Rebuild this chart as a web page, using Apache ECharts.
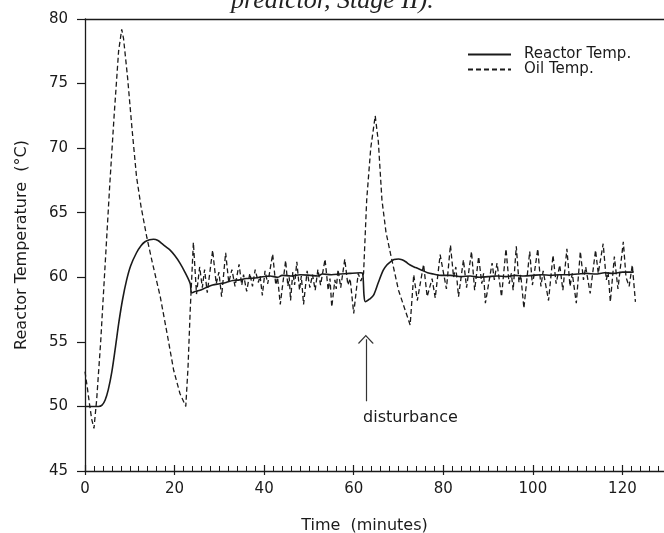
<!DOCTYPE html>
<html>
<head>
<meta charset="utf-8">
<script src="https://cdn.jsdelivr.net/npm/echarts@6/dist/echarts.min.js"></script>
<style>
html,body{margin:0;padding:0;background:#fff;overflow:hidden;width:664px;height:533px;}
#chart{width:712px;height:533px;}
</style>
</head>
<body>
<div id="chart"></div>
<script>
// ---- data ----
const reactorTime = [0,1,2,3,3.8,4.5,5.2,6.0,6.8,7.6,8.4,9.3,10.2,11.5,12.5,13.4,14.4,15.3,16.3,17.2,18.1,19.0,20.0,21.2,22.3,23.5,23.8,24.6,25.7,27.0,28.5,30.0,31.5,33.0,34.5,36.0,38.0,39.0,41.3,43.0,44.0,46.0,48.0,50.3,52.0,53.0,55.0,57.0,59.0,61.5,62.0,62.3,62.6,63.5,64.4,65.5,66.6,67.4,68.2,69.0,70.0,70.8,71.6,72.6,73.8,75.2,76.5,77.8,79.5,81.6,84,86,88,90,92,94,96,98,100,102,104,106,108,110,112,114,116,118,120,122.5];
const reactorTemp = [50.0,50.0,50.0,50.0,50.1,50.5,51.3,52.7,54.6,56.6,58.3,59.8,60.9,61.9,62.45,62.75,62.9,62.95,62.85,62.6,62.35,62.1,61.7,61.1,60.4,59.5,58.8,58.9,59.0,59.2,59.4,59.5,59.6,59.75,59.8,59.9,59.95,60.0,60.1,60.0,60.15,60.1,60.2,60.15,60.1,60.25,60.2,60.25,60.3,60.35,60.3,58.6,58.1,58.3,58.6,59.6,60.55,60.95,61.2,61.38,61.42,61.35,61.2,60.95,60.75,60.55,60.35,60.25,60.15,60.15,60.05,60.1,60.0,60.05,60.1,60.05,60.15,60.1,60.15,60.2,60.15,60.2,60.2,60.25,60.3,60.25,60.35,60.3,60.4,60.4];

const oilTime = [0,0.5,1,1.5,2,2.6,3.5,4.5,5.5,6.5,7.5,8.2,8.6,9.5,10.5,11.5,12.5,13.8,15,16.8,18.3,19.8,21.2,22.5,23.0,23.5,24.2,
 24.9,25.6,26.2,26.7,27.3,28.5,29.3,29.9,30.5,31.4,32.1,32.8,33.5,34.4,35.0,35.4,36.1,36.8,37.4,38.0,38.7,39.1,39.6,40.2,40.8,41.9,42.6,43.0,43.6,44.8,45.3,45.6,45.9,46.4,46.8,47.3,47.9,48.3,48.8,49.6,50.2,50.8,51.4,52.0,52.6,53.6,54.3,54.7,55.1,55.8,56.1,56.5,57.1,58.0,58.7,59.2,60.0,61.0,61.6,62.2,
 62.9,63.8,64.8,65.5,66.3,67.2,68.2,70.0,72.6,
 73.4,74.2,75.6,76.4,77.5,78.2,79.3,80.7,81.6,82.3,82.8,83.4,84.5,85.2,86.3,87.0,87.9,88.6,89.0,89.4,90.9,91.4,92.0,93.0,94.0,94.7,95.2,95.6,96.3,96.9,97.3,98.0,99.3,99.9,100.4,101.1,101.8,102.3,103.5,104.5,105.2,106.0,106.7,107.6,108.3,108.8,109.7,110.6,111.3,111.8,112.8,114.0,114.6,115.7,116.4,116.8,117.3,118.2,119.0,120.2,120.8,121.5,122.2,122.9];
const oilTemp = [52.7,51.5,50.2,49.0,48.3,50.5,55.0,61.0,67.0,72.5,77.5,79.2,78.5,75.5,71.5,67.8,65.5,63.1,61.2,58.5,55.7,52.8,51.0,50.0,53.0,57.5,62.7,
 58.7,60.8,59.2,60.6,58.8,62.1,59.5,60.4,58.5,61.9,59.6,60.6,59.3,61.0,59.4,60.2,58.9,60.3,59.3,60.6,59.6,60.1,58.6,60.5,59.5,61.8,59.4,60.0,57.9,61.3,59.3,60.0,58.2,60.4,59.4,61.2,59.0,60.1,57.9,60.5,59.2,60.2,59.0,60.6,59.4,61.4,59.0,59.9,57.7,59.8,59.1,60.6,59.2,61.4,59.4,59.9,57.2,60.3,59.7,60.3,
 66.0,70.0,72.5,70.5,66.0,63.5,61.85,59.0,56.3,
 60.2,58.2,61.0,58.5,59.9,58.4,61.75,59.1,62.5,60.0,60.8,58.5,61.35,59.2,62.0,59.0,61.6,59.5,60.3,58.0,61.1,59.8,61.1,58.5,62.2,59.5,60.3,59.0,62.4,59.6,60.2,57.6,62.0,59.4,60.5,62.2,59.3,60.5,58.2,61.7,59.5,60.95,59.0,62.2,59.3,60.3,58.0,62.0,59.8,60.8,58.75,62.1,60.3,62.6,59.8,60.4,58.1,61.6,59.1,62.75,60.0,59.3,60.95,58.1];

const xTicks = {min: 0, max: 140, interval: 20};
const yTicks = {min: 45, max: 80, interval: 5};
const seriesNames = ['Reactor Temp.', 'Oil Temp.'];
const arrowFrom = [62.7, 50.4];
const arrowTo = [62.7, 55.2];
const labelAt = [62.1, 49.1];

const zip = (a, b) => a.map((v, i) => [v, b[i]]);

const FONT = 'DejaVu Sans';
const INK = '#1a1a1a';

const chart = echarts.init(document.getElementById('chart'), null, {renderer: 'canvas'});
chart.setOption({
  animation: false,
  backgroundColor: '#fff',
  title: {
    text: 'predictor, Stage II).',
    left: 226, top: -17,
    textStyle: {fontFamily: 'Liberation Serif', fontStyle: 'italic', fontWeight: 'normal', fontSize: 26, color: '#222'}
  },
  grid: {left: 85, right: 0, top: 19, bottom: 62, outerBoundsMode: 'none', containLabel: false},
  legend: {
    orient: 'vertical', left: 467, top: 47, padding: 0,
    itemWidth: 43, itemHeight: 12, itemGap: 0,
    itemStyle: {color: 'transparent', borderWidth: 0, opacity: 0},
    textStyle: {fontFamily: FONT, fontSize: 15, lineHeight: 15, color: INK, padding: [0, 0, 0, 8]},
    data: seriesNames
  },
  xAxis: [{
    type: 'value', position: 'bottom',
    min: xTicks.min, max: xTicks.max, interval: xTicks.interval,
    axisLine: {show: true, lineStyle: {color: INK, width: 1.3}},
    axisTick: {show: true, inside: true, length: 6, lineStyle: {color: INK, width: 1.2}},
    minorTick: {show: true, splitNumber: 10, length: 5, lineStyle: {color: INK, width: 1}},
    splitLine: {show: false},
    axisLabel: {fontFamily: FONT, fontSize: 15, color: INK, margin: 11, showMaxLabel: false},
    name: 'Time  (minutes)', nameLocation: 'middle', nameGap: 47,
    nameTextStyle: {fontFamily: FONT, fontSize: 16, color: INK, padding: [0, 68, 0, 0]}
  }, {
    type: 'value', position: 'bottom', gridIndex: 0,
    min: xTicks.min, max: xTicks.max, interval: xTicks.interval,
    axisLine: {show: false},
    axisTick: {show: true, inside: false, length: 4, lineStyle: {color: INK, width: 1.2}},
    axisLabel: {show: false}, splitLine: {show: false}
  }, {
    type: 'value', position: 'top', gridIndex: 0,
    min: xTicks.min, max: xTicks.max,
    axisLine: {show: true, lineStyle: {color: INK, width: 1.3}},
    axisTick: {show: false}, axisLabel: {show: false}, splitLine: {show: false}
  }],
  yAxis: {
    type: 'value', min: yTicks.min, max: yTicks.max, interval: yTicks.interval,
    axisLine: {show: true, lineStyle: {color: INK, width: 1.3}},
    axisTick: {show: true, inside: false, length: 8, lineStyle: {color: INK, width: 1.2}},
    splitLine: {show: false},
    axisLabel: {fontFamily: FONT, fontSize: 15, color: INK, margin: 17},
    name: 'Reactor Temperature  (°C)', nameLocation: 'middle', nameGap: 55, nameRotate: 90,
    nameTextStyle: {fontFamily: FONT, fontSize: 16, color: INK}
  },
  series: [{
    name: seriesNames[0], type: 'line', xAxisIndex: 0,
    data: zip(reactorTime, reactorTemp),
    symbol: 'none', smooth: 0.3,
    lineStyle: {color: INK, width: 1.6, type: 'solid'},
    itemStyle: {color: INK},
    markLine: {
      silent: true, animation: false,
      symbol: ['none', 'path://M0,14 L10,0 L20,14 L18.4,14.9 L10,2.9 L1.6,14.9 Z'],
      symbolSize: [16, 9],
      lineStyle: {color: '#333', width: 1.2, type: 'solid'},
      label: {show: false},
      data: [[{coord: arrowFrom}, {coord: arrowTo}]]
    },
    markPoint: {
      silent: true, animation: false,
      symbol: 'circle', symbolSize: 0,
      label: {show: true, position: 'right', distance: 0, formatter: 'disturbance', fontFamily: FONT, fontSize: 16, color: INK},
      data: [{coord: labelAt}]
    }
  }, {
    name: seriesNames[1], type: 'line', xAxisIndex: 0,
    data: zip(oilTime, oilTemp),
    symbol: 'none',
    lineStyle: {color: INK, width: 1.3, type: [5, 3]},
    itemStyle: {color: INK}
  }]
});
</script>
</body>
</html>
